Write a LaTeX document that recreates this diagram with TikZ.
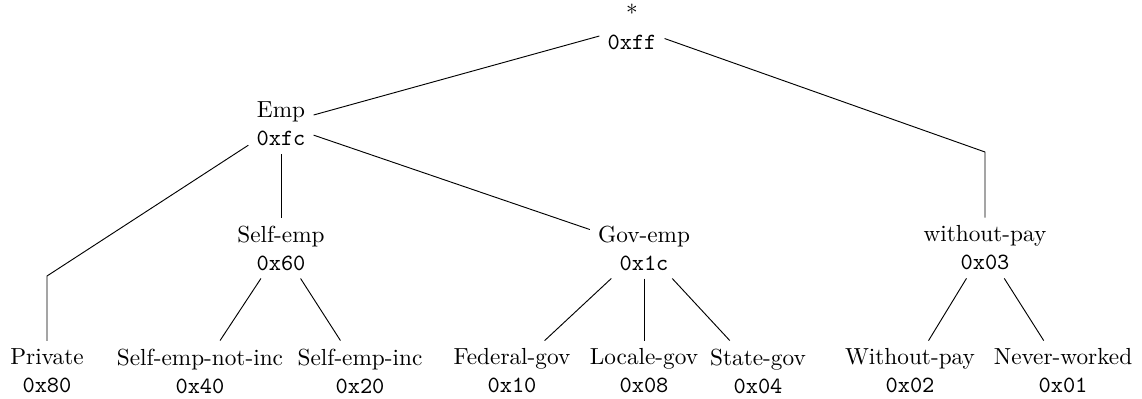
\documentclass[tikz,border=0pt]{standalone}
\begin{document}
\begin{tikzpicture}[x=0.43pt, y=-0.43pt, cat/.style={align=center}]
        \useasboundingbox (0,0) rectangle (1142,398);

        % Root and first level
        \node[cat] (star) at (632,27) {*\\\texttt{0xff}};
        \node[cat] (emp) at (281,124) {Emp\\\texttt{0xfc}};

        % Second level
        \node[cat] (selfemp) at (281,248) {Self-emp\\\texttt{0x60}};
        \node[cat] (govemp) at (644,248) {Gov-emp\\\texttt{0x1c}};
        \node[cat] (withoutpay) at (985,248) {without-pay\\\texttt{0x03}};

        % Leaves
        \node[cat] (private) at (47,371) {Private\\\texttt{0x80}};
        \node[cat] (notinc) at (200,371) {Self-emp-not-inc\\\texttt{0x40}};
        \node[cat] (inc) at (360,371) {Self-emp-inc\\\texttt{0x20}};
        \node[cat] (federal) at (512,371) {Federal-gov\\\texttt{0x10}};
        \node[cat] (locale) at (644,371) {Locale-gov\\\texttt{0x08}};
        \node[cat] (state) at (758,371) {State-gov\\\texttt{0x04}};
        \node[cat] (nopay) at (910,371) {Without-pay\\\texttt{0x02}};
        \node[cat] (never) at (1063,371) {Never-worked\\\texttt{0x01}};

        % Bends for the long edges
        \coordinate (privatebend) at (47,276);
        \coordinate (withoutpaybend) at (985,152);

        % Edges
        \draw (star) -- (emp);
        \draw (star) -- (withoutpaybend) -- (withoutpay);
        \draw (emp) -- (privatebend) -- (private);
        \draw (emp) -- (selfemp);
        \draw (emp) -- (govemp);
        \draw (selfemp) -- (notinc);
        \draw (selfemp) -- (inc);
        \draw (govemp) -- (federal);
        \draw (govemp) -- (locale);
        \draw (govemp) -- (state);
        \draw (withoutpay) -- (nopay);
        \draw (withoutpay) -- (never);
    \end{tikzpicture}
\end{document}
